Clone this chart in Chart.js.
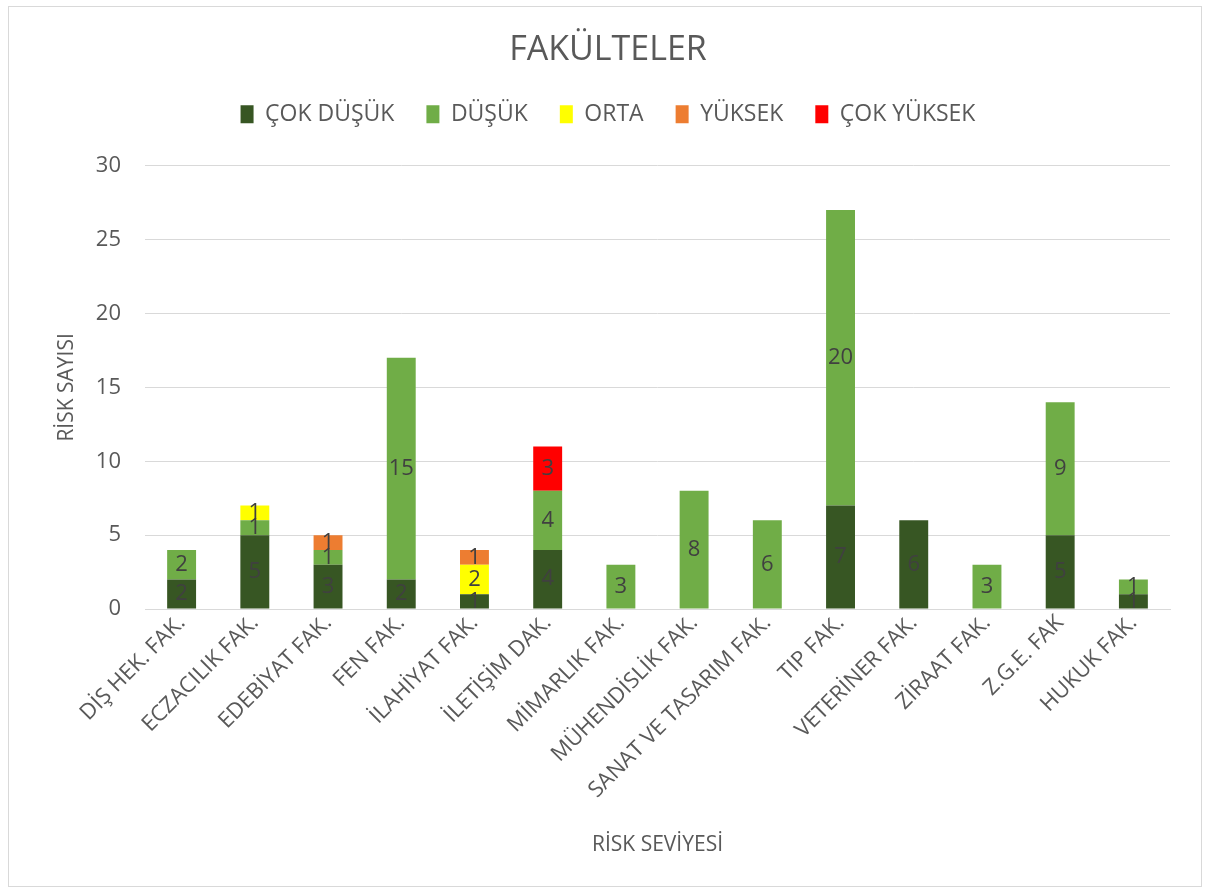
<!DOCTYPE html>
<html><head><meta charset="utf-8">
<script src="https://cdn.jsdelivr.net/npm/chart.js@4"></script>
<style>html,body{margin:0;padding:0;background:#fff}#wrap{width:1208px;height:891px;position:relative}</style>
</head><body><div id="wrap"><canvas id="c" width="1208" height="891"></canvas></div>
<script>
const categories = ["DİŞ HEK. FAK.","ECZACILIK FAK.","EDEBİYAT FAK.","FEN FAK.","İLAHİYAT FAK.","İLETİŞİM DAK.","MİMARLIK FAK.","MÜHENDİSLİK FAK.","SANAT VE TASARIM FAK.","TIP FAK.","VETERİNER FAK.","ZİRAAT FAK.","Z.G.E. FAK","HUKUK FAK."];
const cokDusuk  = [2,5,3,2,1,4,0,0,0,7,6,0,5,1];
const dusuk     = [2,1,1,15,0,4,3,8,6,20,0,3,9,1];
const orta      = [0,1,0,0,2,0,0,0,0,0,0,0,0,0];
const yuksek    = [0,0,1,0,1,0,0,0,0,0,0,0,0,0];
const cokYuksek = [0,0,0,0,0,3,0,0,0,0,0,0,0,0];
const seriesNames = ["ÇOK DÜŞÜK","DÜŞÜK","ORTA","YÜKSEK","ÇOK YÜKSEK"];
const yTicks = [0,5,10,15,20,25,30];

const colors = ["#375623","#70AD47","#FFFF00","#ED7D31","#FF0000"];
const FONT = "'Open Sans', sans-serif";
const TXT = "#595959";

const labelPlugin = {
  id:'lbl',
  afterDatasetsDraw(chart){
    const ctx = chart.ctx;
    ctx.save();
    ctx.font = "22px " + FONT;
    ctx.fillStyle = "#404040";
    ctx.textAlign = "center";
    ctx.textBaseline = "middle";
    chart.data.datasets.forEach((ds,i)=>{
      const meta = chart.getDatasetMeta(i);
      meta.data.forEach((el,j)=>{
        const v = ds.data[j];
        if(!v) return;
        ctx.fillText(String(v), el.x, (el.y+el.base)/2);
      });
    });
    ctx.restore();
  }
};
const borderPlugin = {
  id:'brd',
  beforeDraw(chart){
    const ctx = chart.ctx;
    ctx.save();
    ctx.fillStyle="#fff";
    ctx.fillRect(0,0,chart.width,chart.height);
    ctx.strokeStyle="#d9d9d9";
    ctx.lineWidth=1;
    ctx.strokeRect(8.5,6.5,1193,880);
    ctx.restore();
  }
};
const spacerPlugin = {
  id:'spacer',
  beforeInit(chart){
    const box = {
      position:'top', weight:500, fullSize:true, options:{},
      width:0,height:0,left:0,top:0,right:0,bottom:0,
      isHorizontal(){return true;},
      update(maxW){ this.width=maxW; this.height=30; },
      draw(){}
    };
    Chart.layouts.addBox(chart, box);
  }
};

const data = [cokDusuk,dusuk,orta,yuksek,cokYuksek];
new Chart(document.getElementById('c'),{
  type:'bar',
  data:{labels:categories,datasets:data.map((d,i)=>({label:seriesNames[i],data:d,backgroundColor:colors[i],barPercentage:0.79,categoryPercentage:0.5}))},
  options:{
    responsive:false,animation:false,
    layout:{padding:{left:46,right:38,top:0,bottom:0}},
    plugins:{
      title:{display:true,text:"FAKÜLTELER",color:TXT,font:{family:FONT,size:34,weight:'normal'},padding:{top:30,bottom:0}},
      legend:{position:'top',labels:{color:TXT,font:{family:FONT,size:23},boxWidth:13,boxHeight:18,padding:32}},
      tooltip:{enabled:false}
    },
    scales:{
      x:{stacked:true,grid:{display:false,drawTicks:false},border:{color:"#d9d9d9"},
        afterFit(s){s.height=282;},
        ticks:{color:TXT,font:{family:FONT,size:22},minRotation:45,maxRotation:45,autoSkip:false,padding:1},
        title:{display:true,text:"RİSK SEVİYESİ",color:TXT,font:{family:FONT,size:21},padding:{top:0,bottom:33}}},
      y:{stacked:true,min:0,max:30,afterBuildTicks(s){s.ticks=yTicks.map(v=>({value:v}));},
        afterFit(s){s.width=99;},
        grid:{color:"#d9d9d9",drawTicks:false},border:{display:false},
        ticks:{color:TXT,font:{family:FONT,size:22},padding:24},
        title:{display:true,text:"RİSK SAYISI",color:TXT,font:{family:FONT,size:21},padding:{top:8,bottom:0}}}
    }
  },
  plugins:[labelPlugin,borderPlugin,spacerPlugin]
});
</script></body></html>
